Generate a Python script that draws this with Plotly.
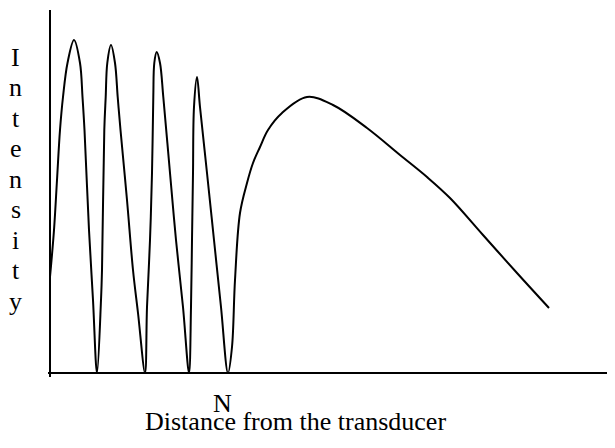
import plotly.graph_objects as go

# Curve (distance, intensity), arbitrary units
distance = [0, 4, 7, 10, 13, 17.5, 24, 30, 32.5, 34.5, 39, 43, 47,
            51, 52, 54.3, 55.7, 57.3, 61, 65, 67.7, 70.5, 77, 83, 88, 95,
            97, 100, 102, 103.3, 104.3, 106.7, 110, 113.3, 120, 126, 133, 139,
            141, 142, 143, 144, 147, 150, 157, 164, 171, 178,
            182, 185, 190, 197, 203, 210, 218, 232, 257, 283, 317, 350, 377, 400, 433, 467, 499]
intensity = [96, 143, 193, 243, 276, 310, 333, 310, 276, 243, 143, 73, 0,
             73, 103, 243, 276, 310, 328, 310, 276, 243, 173, 103, 60, 0,
             66, 133, 200, 276, 310, 321, 310, 276, 200, 133, 66, 0,
             66, 133, 200, 266, 296, 266, 200, 133, 66, 0,
             26, 93, 160, 190, 210, 226, 243, 260, 276, 268, 245, 218, 196, 175, 138, 100, 65]

x_label = "Distance from the transducer"
tick_label = "N"
y_letters = list("Intensity")

OFF = 8                      # page body margin of the html page
W, H = 615 - OFF, 448 - OFF  # figure size
L, R, T, B = 50 - OFF, 0, 10 - OFF, 75
PW, PH = W - L - R, H - T - B
font = dict(family="Liberation Serif, Times New Roman, serif", size=26, color="black")

def px(xp):
    return (xp - OFF - L) / PW

def py(yp):
    return (H - B - (yp - OFF)) / PH

fig = go.Figure()
fig.add_trace(go.Scatter(x=distance, y=intensity, mode="lines",
                         line=dict(color="black", width=2, shape="spline", smoothing=1.0),
                         hoverinfo="skip", showlegend=False))

fig.update_xaxes(range=[0, PW], visible=False)
fig.update_yaxes(range=[0, PH], visible=False)

shapes = [
    dict(type="line", xref="paper", yref="paper", x0=px(50), x1=px(50), y0=py(10), y1=py(377),
         line=dict(color="black", width=2)),
    dict(type="line", xref="paper", yref="paper", x0=px(48), x1=px(620), y0=py(373), y1=py(373),
         line=dict(color="black", width=2)),
]

BASE = 8.6  # distance from box middle to baseline at this font size
annotations = [
    dict(text=tick_label, xref="paper", yref="paper", x=px(222.5), y=py(412 - BASE),
         showarrow=False, font=font, xanchor="center", yanchor="middle"),
    dict(text=x_label, xref="paper", yref="paper", x=px(295), y=py(430 - BASE),
         showarrow=False, font=font, xanchor="center", yanchor="middle"),
]
for i, ch in enumerate(y_letters):
    yb = 66 + i * 30.5
    annotations.append(dict(text=ch.upper() if i == 0 else ch, xref="paper", yref="paper",
                            x=px(15.5), y=py(yb - BASE), showarrow=False, font=font,
                            xanchor="center", yanchor="middle"))

fig.update_layout(width=W, height=H, margin=dict(l=L, r=R, t=T, b=B, autoexpand=False),
                  paper_bgcolor="white", plot_bgcolor="white",
                  shapes=shapes, annotations=annotations)

fig.write_html("out.html")
